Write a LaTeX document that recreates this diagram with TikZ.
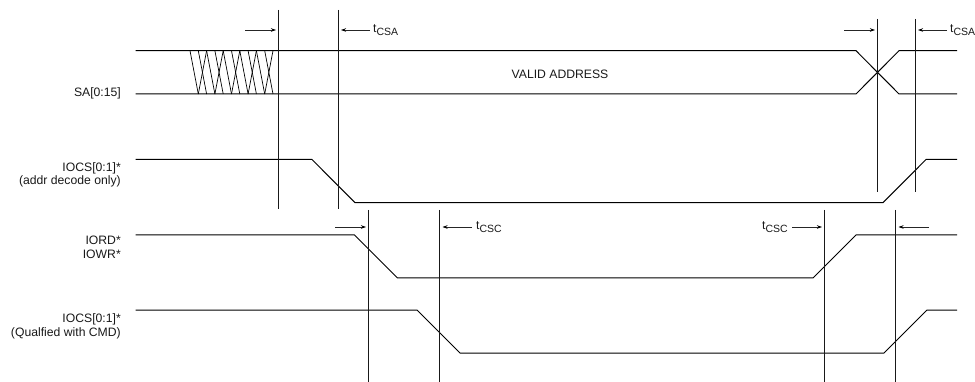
\documentclass[tikz,border=0pt]{standalone}
\usepackage{fontspec}
\setmainfont{Liberation Sans}
\usetikzlibrary{arrows.meta}
\tikzset{
  sig/.style={draw=black,line width=1pt},
  guide/.style={draw=black!90,line width=1pt},
  hatch/.style={draw=black,line width=0.7pt},
  dim/.style={draw=black!85,line width=0.8pt,-{Stealth[length=5pt,width=3.5pt,black]}},
  lab/.style={inner sep=0pt,font=\fontsize{12.2}{14}\selectfont,text=black!90},
  sl/.style={lab,anchor=base east,align=right},
  tl/.style={lab,anchor=base west}
}
\newcommand{\tsub}[1]{t\raisebox{-2.6pt}{\fontsize{10.5}{12}\selectfont #1}}
\begin{document}
\begin{tikzpicture}[x=1pt,y=-1pt]
\useasboundingbox (0,0) rectangle (975,382);
% signals
\draw[sig] (135.5,50.7) -- (856,50.7) -- (899,94) -- (957,94);
\draw[sig] (135.5,94) -- (856,94) -- (899,50.7) -- (957,50.7);
\draw[sig] (135.5,159.5) -- (312,159.5) -- (355,202.7) -- (883,202.7) -- (926,159.5) -- (957,159.5);
\draw[sig] (135.5,235) -- (354.5,235) -- (397.5,278) -- (813,278) -- (856,235) -- (957,235);
\draw[sig] (135.5,310) -- (417,310) -- (460,353) -- (884,353) -- (927,310) -- (957,310);
% hatch
\foreach \k in {0,...,9}
  \draw[hatch] ({190+8.3*\k},50.7) -- ({198.3+8.3*\k},94);
\foreach \k in {0,...,4}
  \draw[hatch] ({198.3+16.6*\k},94) -- ({206.6+16.6*\k},50.7);
% guides
\coordinate (g1t) at (278.7,10); \coordinate (g1b) at (278.7,209);
\coordinate (g2t) at (338,10); \coordinate (g2b) at (338,209);
\coordinate (g3t) at (877.3,19); \coordinate (g3b) at (877.3,192);
\coordinate (g4t) at (915,19); \coordinate (g4b) at (915,192);
\coordinate (g5t) at (368.5,210); \coordinate (g5b) at (368.5,382);
\coordinate (g6t) at (439.5,210); \coordinate (g6b) at (439.5,382);
\coordinate (g7t) at (824.3,210); \coordinate (g7b) at (824.3,382);
\coordinate (g8t) at (895.7,210); \coordinate (g8b) at (895.7,382);
\foreach \g in {1,...,8} \draw[guide] (g\g t) -- (g\g b);
% dimension arrows
\coordinate (a1) at (245,30); \coordinate (a1e) at (276,30);
\coordinate (a2) at (370,30); \coordinate (a2e) at (341,30);
\coordinate (a3) at (844,30); \coordinate (a3e) at (875,30);
\coordinate (a4) at (947,30); \coordinate (a4e) at (918,30);
\coordinate (a5) at (335,227); \coordinate (a5e) at (366,227);
\coordinate (a6) at (472,227); \coordinate (a6e) at (442.5,227);
\coordinate (a7) at (792,227); \coordinate (a7e) at (822,227);
\coordinate (a8) at (929,227); \coordinate (a8e) at (898.5,227);
\foreach \g in {1,...,8} \draw[dim] (a\g) -- (a\g e);
% labels
\node[tl] (t1) at (373,33) {\tsub{CSA}};
\node[tl] (t2) at (950,33) {\tsub{CSA}};
\node[tl] (t3) at (476,230) {\tsub{CSC}};
\node[tl] (t4) at (762,230) {\tsub{CSC}};
\node[lab,anchor=base] (va) at (560,79) {VALID ADDRESS};
\node[sl] (s1) at (121,97) {SA[0:15]};
\node[sl] (s2) at (121,172) {IOCS[0:1]*};
\node[sl] (s2b) at (121,185) {(addr decode only)};
\node[sl] (s3) at (121,245) {IORD*};
\node[sl] (s3b) at (121,259) {IOWR*};
\node[sl] (s4) at (121,323) {IOCS[0:1]*};
\node[sl] (s4b) at (121,336.5) {(Qualfied with CMD)};
\end{tikzpicture}
\end{document}
